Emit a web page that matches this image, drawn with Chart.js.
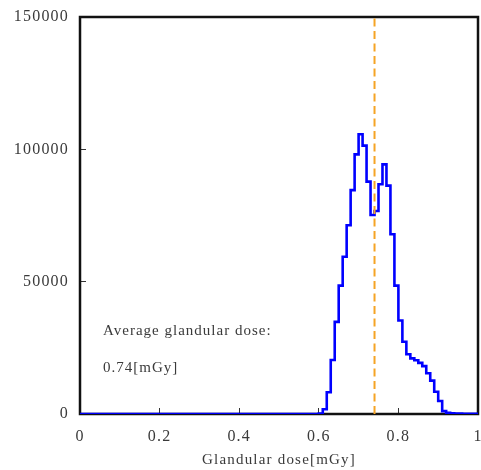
<!DOCTYPE html>
<html>
<head>
<meta charset="utf-8">
<title>Glandular dose histogram</title>
<script src="https://cdn.jsdelivr.net/npm/chart.js@4/dist/chart.umd.min.js"></script>
<style>
  html, body { margin: 0; padding: 0; background: #fff; }
  #wrap { width: 481px; height: 470px; }
</style>
</head>
<body>
<div id="wrap"><canvas id="doseChart" width="481" height="470"></canvas></div>
<script>
// histogram bins (left edge, bin width 0.01 mGy) and counts
const binStart = [0.60, 0.61, 0.62, 0.63, 0.64, 0.65, 0.66, 0.67, 0.68, 0.69,
                  0.70, 0.71, 0.72, 0.73, 0.74, 0.75, 0.76, 0.77, 0.78, 0.79,
                  0.80, 0.81, 0.82, 0.83, 0.84, 0.85, 0.86, 0.87, 0.88, 0.89,
                  0.90, 0.91, 0.92, 0.93, 0.94, 0.95, 0.96, 0.97, 0.98, 0.99];
const counts = [0, 200, 1800, 8200, 20400, 34800, 48500, 59400, 71300, 84600,
                98100, 105700, 101400, 87800, 75200, 76700, 86800, 94300, 86300, 67900,
                48500, 35300, 27300, 22600, 21000, 20300, 19300, 18100, 15400, 12600,
                8400, 4900, 1100, 500, 300, 200, 150, 100, 100, 50];
const meanDose = 0.74;
const xTicks = [0, 0.2, 0.4, 0.6, 0.8, 1];
const yTicks = [0, 50000, 100000, 150000];
const noteLines = ['Average glandular dose:', '0.74[mGy]'];

const textColor = '#3a3a3a';
const serif = "'Liberation Serif', 'DejaVu Serif', serif";

// step line: flat zero from 0 up to the first bin, then one step per bin
const histPoints = [{ x: 0, y: 0 }];
binStart.forEach((x, i) => histPoints.push({ x: x, y: counts[i] }));
histPoints.push({ x: 1, y: counts[counts.length - 1] });

// frame, letter spacing and the text note
const framePlugin = {
    id: 'frame',
    beforeDraw(chart) {
        chart.ctx.letterSpacing = '1.2px';
    },
    beforeDatasetsDraw(chart) {
        const { ctx, chartArea } = chart;
        ctx.save();
        ctx.strokeStyle = '#111';
        ctx.lineWidth = 2.5;
        ctx.strokeRect(chartArea.left, chartArea.top,
            chartArea.right - chartArea.left, chartArea.bottom - chartArea.top);
        ctx.restore();
    },
    afterDatasetsDraw(chart) {
        const { ctx, scales } = chart;
        ctx.save();
        ctx.letterSpacing = '1px';
        ctx.fillStyle = textColor;
        ctx.font = '15px ' + serif;
        ctx.textAlign = 'left';
        ctx.textBaseline = 'middle';
        ctx.fillText(noteLines[0], scales.x.getPixelForValue(0.058), scales.y.getPixelForValue(31400));
        ctx.fillText(noteLines[1], scales.x.getPixelForValue(0.058), scales.y.getPixelForValue(17400));
        ctx.restore();
    }
};

const ctx = document.getElementById('doseChart').getContext('2d');
new Chart(ctx, {
    type: 'line',
    data: {
        datasets: [{
            label: 'Histogram',
            data: histPoints,
            stepped: 'after',
            borderColor: '#0000ff',
            borderWidth: 2.6,
            pointRadius: 0,
            fill: false,
            order: 2
        }, {
            label: 'Average',
            data: [{ x: meanDose, y: 0 }, { x: meanDose, y: 150000 }],
            borderColor: '#f5a425',
            borderWidth: 2,
            borderDash: [8, 4.5],
            pointRadius: 0,
            fill: false,
            order: 1
        }]
    },
    options: {
        responsive: false,
        animation: false,
        layout: { padding: { top: 17, right: 3, left: 0, bottom: 0 } },
        plugins: {
            legend: { display: false },
            tooltip: { enabled: false }
        },
        scales: {
            x: {
                type: 'linear',
                min: 0,
                max: 1,
                afterBuildTicks: (scale) => { scale.ticks = xTicks.map(v => ({ value: v })); },
                afterFit: (scale) => {
                    scale.height = 56;
                    scale.paddingLeft = 0;
                    scale.paddingRight = 0;
                },
                grid: {
                    drawOnChartArea: false,
                    drawTicks: true,
                    tickLength: -6,
                    color: '#333',
                    lineWidth: 1
                },
                border: { display: false },
                ticks: {
                    color: textColor,
                    padding: 19,
                    maxRotation: 0,
                    font: { family: serif, size: 16 },
                    callback: (v) => String(v)
                },
                title: {
                    display: true,
                    text: 'Glandular dose[mGy]',
                    color: textColor,
                    font: { family: serif, size: 15 },
                    padding: { top: 0, bottom: 1 }
                }
            },
            y: {
                min: 0,
                max: 150000,
                afterBuildTicks: (scale) => { scale.ticks = yTicks.map(v => ({ value: v })); },
                afterFit: (scale) => {
                    scale.width = 80;
                    scale.paddingTop = 0;
                    scale.paddingBottom = 0;
                },
                grid: {
                    drawOnChartArea: false,
                    drawTicks: true,
                    tickLength: -6,
                    color: '#333',
                    lineWidth: 1
                },
                border: { display: false },
                ticks: {
                    color: textColor,
                    padding: 17,
                    font: { family: serif, size: 16 },
                    callback: (v) => String(v)
                }
            }
        }
    },
    plugins: [framePlugin]
});
</script>
</body>
</html>
